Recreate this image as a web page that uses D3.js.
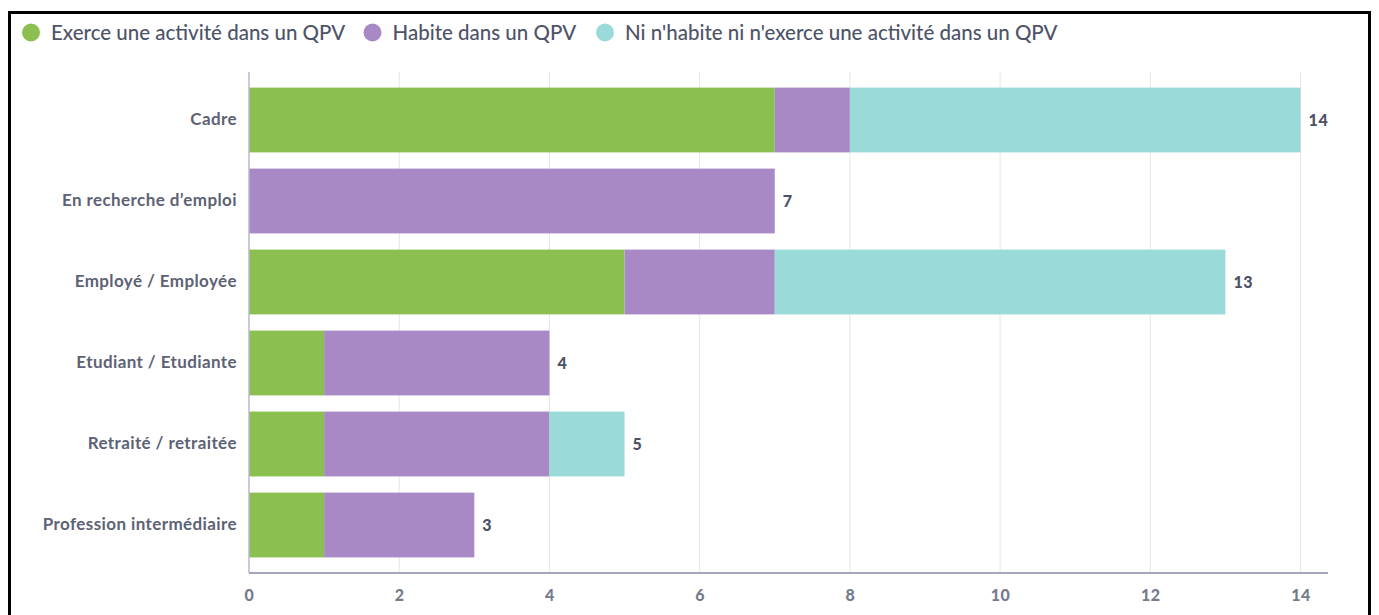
<!DOCTYPE html>
<html><head><meta charset="utf-8">
<script src="https://cdn.jsdelivr.net/npm/d3@7"></script>
<style>
html,body{margin:0;padding:0;background:#fff;}
svg{display:block;font-family:Lato,"Open Sans",sans-serif;}
</style></head>
<body>
<script>
const categories = ["Cadre","En recherche d’emploi","Employé / Employée","Etudiant / Etudiante","Retraité / retraitée","Profession intermédiaire"];
const seriesNames = ["Exerce une activité dans un QPV","Habite dans un QPV","Ni n'habite ni n'exerce une activité dans un QPV"];
const exerce = [7,0,5,1,1,1];
const habite = [1,7,2,3,3,2];
const ni = [6,0,6,0,1,0];
const xTicks = [0,2,4,6,8,10,12,14];
const colors = ["#8bbf4f","#a989c5","#9adad9"];

const W = 1379, H = 615;
const svg = d3.select("body").append("svg").attr("width",W).attr("height",H);

// frame
svg.append("rect").attr("x",9.5).attr("y",12.5).attr("width",1360).attr("height",610)
  .attr("fill","none").attr("stroke","#000").attr("stroke-width",3);

const x = d3.scaleLinear().domain([0,14]).range([249,1300.5]);
const y = d3.scaleBand().domain(categories).range([79.5,565.5]).paddingInner(0.2).paddingOuter(0.1);
const plotTop = 72, plotBottom = 573, axisEnd = 1328;

// grid
svg.append("g").selectAll("line").data(xTicks.filter(d=>d>0)).join("line")
  .attr("x1",d=>x(d)).attr("x2",d=>x(d)).attr("y1",plotTop).attr("y2",plotBottom)
  .attr("stroke","#e6e6e6").attr("stroke-width",1);

// stacked data
const rows = categories.map((c,i)=>({cat:c, s0:exerce[i], s1:habite[i], s2:ni[i]}));
const stack = d3.stack().keys(["s0","s1","s2"])(rows);

svg.append("g").selectAll("g").data(stack).join("g").attr("fill",(d,i)=>colors[i])
  .selectAll("rect").data(d=>d.filter(v=>v[1]-v[0]>0)).join("rect")
  .attr("x",d=>x(d[0])).attr("width",d=>x(d[1])-x(d[0]))
  .attr("y",d=>y(d.data.cat)).attr("height",y.bandwidth());

// axes lines
svg.append("line").attr("x1",249).attr("x2",249).attr("y1",plotTop).attr("y2",plotBottom)
  .attr("stroke","#b9b9cf").attr("stroke-width",1.5);
const xAxis = d3.axisBottom(x).tickValues(xTicks).tickSize(0).tickPadding(17);
const gx = svg.append("g").attr("transform",`translate(0,${plotBottom})`).call(xAxis);
gx.select(".domain").remove();
gx.append("line").attr("x1",249).attr("x2",axisEnd).attr("y1",0).attr("y2",0)
  .attr("stroke","#a3a6bd").attr("stroke-width",2);
gx.selectAll("text").attr("font-family","Lato").attr("font-weight",900)
  .attr("font-size",16).attr("letter-spacing","0.6px").attr("fill","#767b8c");

// y labels
const yAxis = d3.axisLeft(y).tickSize(0).tickPadding(12);
const gy = svg.append("g").attr("transform","translate(249,0)").call(yAxis);
gy.select(".domain").remove();
gy.selectAll("text").attr("font-family","Lato").attr("font-weight","bold")
  .attr("font-size",17).attr("letter-spacing","0.4px").attr("fill","#5d6274");

// totals
svg.append("g").selectAll("text").data(rows).join("text")
  .attr("x",d=>x(d.s0+d.s1+d.s2)+8).attr("y",d=>y(d.cat)+y.bandwidth()/2)
  .attr("dy","0.35em").attr("font-weight",900).attr("font-size",16).attr("letter-spacing","0.6px")
  .attr("fill","#4c5166").text(d=>d.s0+d.s1+d.s2);

// legend
const legX = [31,372.5,605];
const lg = svg.append("g").selectAll("g").data(seriesNames).join("g");
lg.append("circle").attr("cx",(d,i)=>legX[i]).attr("cy",32.5).attr("r",9).attr("fill",(d,i)=>colors[i]);
lg.append("text").attr("x",(d,i)=>legX[i]+20).attr("y",33).attr("dy","0.35em")
  .attr("font-size",20.5).attr("font-weight",500).attr("fill","#4e5468").text(d=>d);
</script>
</body></html>
